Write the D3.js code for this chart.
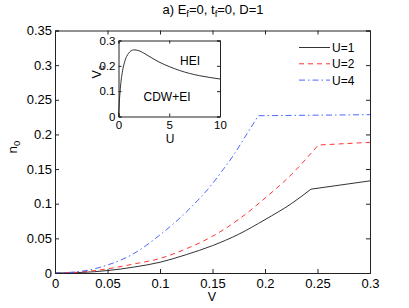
<!DOCTYPE html>
<html>
<head>
<meta charset="utf-8">
<title>n0 vs V</title>
<style>
body { margin: 0; background-color: #ffffff; }
text { font-family: "Liberation Sans", Arial, sans-serif; fill: #000; }
</style>
</head>
<body>
<script src="https://cdn.jsdelivr.net/npm/d3@7"></script>
<script>

// main plot data (last point of each list is the plateau end, the one before it is the kink)
var vU1 = [0, 0.025, 0.05, 0.075, 0.1, 0.125, 0.15, 0.175, 0.2, 0.225, 0.2438, 0.3];
var nU1 = [0, 0.0008, 0.0035, 0.0085, 0.0155, 0.0265, 0.0395, 0.056, 0.077, 0.1, 0.121, 0.133];
var vU2 = [0, 0.025, 0.05, 0.075, 0.1, 0.125, 0.15, 0.175, 0.2, 0.225, 0.2508, 0.3];
var nU2 = [0, 0.0015, 0.006, 0.013, 0.021, 0.035, 0.053, 0.0775, 0.108, 0.142, 0.1847, 0.1886];
var vU4 = [0, 0.025, 0.05, 0.075, 0.1, 0.125, 0.15, 0.16, 0.17, 0.18, 0.1936, 0.3];
var nU4 = [0, 0.0025, 0.0115, 0.028, 0.055, 0.088, 0.129, 0.149, 0.17, 0.194, 0.227, 0.2285];
var seriesNames = ["U=1", "U=2", "U=4"];
var xTicks = [0, 0.05, 0.1, 0.15, 0.2, 0.25, 0.3];
var yTicks = [0, 0.05, 0.1, 0.15, 0.2, 0.25, 0.3, 0.35];

// inset data
var insetU = [0, 0.1, 0.2, 0.4, 0.6, 0.8, 1, 1.5, 2, 2.5, 3, 4, 5, 6, 7, 8, 9, 10];
var insetVc = [0, 0.07, 0.12, 0.18, 0.215, 0.237, 0.25, 0.263, 0.26, 0.25, 0.238, 0.215, 0.197, 0.182, 0.17, 0.161, 0.154, 0.148];
var insetXTicks = [0, 5, 10];
var insetYTicks = [0, 0.1, 0.2, 0.3];

var w = 409, h = 308;
var svg = d3.select("body").append("svg")
            .attr("width", w)
            .attr("height", h);

var x = d3.scaleLinear().domain([0, 0.3]).range([55, 370]);
var y = d3.scaleLinear().domain([0, 0.35]).range([273, 30.5]);

var series = [
  {name: seriesNames[0], v: vU1, n: nU1, color: "#333333", dash: null},
  {name: seriesNames[1], v: vU2, n: nU2, color: "#ff3333", dash: "5,4"},
  {name: seriesNames[2], v: vU4, n: nU4, color: "#4d66ff", dash: "6,3,1.5,3"}
];

var smooth = d3.line()
  .x(function(d) { return x(d[0]); })
  .y(function(d) { return y(d[1]); })
  .curve(d3.curveMonotoneX);
var straight = d3.line()
  .x(function(d) { return x(d[0]); })
  .y(function(d) { return y(d[1]); });

// curves: smooth rise up to the kink, then straight plateau
series.forEach(function(s) {
  var pts = s.v.map(function(v, i) { return [v, s.n[i]]; });
  var k = pts.length - 2;
  svg.append("path")
     .attr("d", smooth(pts.slice(0, k + 1)) + straight(pts.slice(k)).replace(/^M/, "L"))
     .attr("fill", "none")
     .attr("stroke", s.color)
     .attr("stroke-width", 1)
     .attr("stroke-dasharray", s.dash);
});

// axes (matlab style: ticks inside, box)
var axB = svg.append("g").attr("transform", "translate(0,273)")
  .call(d3.axisBottom(x).tickValues(xTicks).tickSize(-4).tickPadding(6).tickFormat(d3.format("")));
var axL = svg.append("g").attr("transform", "translate(55,0)")
  .call(d3.axisLeft(y).tickValues(yTicks).tickSize(-4).tickPadding(3).tickFormat(d3.format("")));
var axT = svg.append("g").attr("transform", "translate(0,30.5)")
  .call(d3.axisTop(x).tickValues(xTicks).tickSize(-4).tickFormat(""));
var axR = svg.append("g").attr("transform", "translate(370,0)")
  .call(d3.axisRight(y).tickValues(yTicks).tickSize(-4).tickFormat(""));
[axB, axL, axT, axR].forEach(function(a) {
  a.select(".domain").attr("stroke", "#222");
  a.selectAll(".tick line").attr("stroke", "#222");
  a.selectAll("text").attr("font-size", "13px").attr("font-family", "Liberation Sans, Arial, sans-serif").attr("fill", "#000");
});

// title
var title = svg.append("text")
   .attr("x", 213).attr("y", 14)
   .attr("text-anchor", "middle")
   .attr("font-size", "13px");
title.append("tspan").text("a) E");
title.append("tspan").attr("font-size", "9.5px").attr("dy", 3).text("f");
title.append("tspan").attr("dy", -3).text("=0, t");
title.append("tspan").attr("font-size", "9.5px").attr("dy", 3).text("f");
title.append("tspan").attr("dy", -3).text("=0, D=1");

// axis labels
svg.append("text").attr("x", 212).attr("y", 301).attr("text-anchor", "middle").attr("font-size", "12.5px").text("V");
var yl = svg.append("text").attr("transform", "translate(17,147) rotate(-90)").attr("text-anchor", "middle").attr("font-size", "13.5px");
yl.append("tspan").text("n");
yl.append("tspan").attr("font-size", "9.5px").attr("dy", 3).text("0");

// legend
series.forEach(function(s, i) {
  var ly = 47.5 + i * 16.3;
  svg.append("line")
     .attr("x1", 299).attr("x2", 330).attr("y1", ly).attr("y2", ly)
     .attr("stroke", s.color).attr("stroke-width", 1)
     .attr("stroke-dasharray", s.dash);
  svg.append("text").attr("x", 332).attr("y", ly + 4.5).attr("font-size", "12px").text(s.name);
});

// inset
var ix = d3.scaleLinear().domain([0, 10]).range([118.5, 220]);
var iy = d3.scaleLinear().domain([0, 0.3]).range([116.5, 40.5]);

svg.append("rect").attr("x", 118.5).attr("y", 40.5).attr("width", 101.5).attr("height", 76)
   .attr("fill", "#fff");

svg.append("path")
   .datum(insetU.map(function(u, i) { return [u, insetVc[i]]; }))
   .attr("d", d3.line().x(function(d) { return ix(d[0]); }).y(function(d) { return iy(d[1]); }).curve(d3.curveMonotoneX))
   .attr("fill", "none").attr("stroke", "#333").attr("stroke-width", 1);

var iB = svg.append("g").attr("transform", "translate(0,116.5)")
  .call(d3.axisBottom(ix).tickValues(insetXTicks).tickSize(-3).tickPadding(4));
var iL = svg.append("g").attr("transform", "translate(118.5,0)")
  .call(d3.axisLeft(iy).tickValues(insetYTicks).tickSize(-3).tickPadding(3).tickFormat(d3.format("")));
var iT = svg.append("g").attr("transform", "translate(0,40.5)")
  .call(d3.axisTop(ix).tickValues(insetXTicks).tickSize(-3).tickFormat(""));
var iR = svg.append("g").attr("transform", "translate(220,0)")
  .call(d3.axisRight(iy).tickValues(insetYTicks).tickSize(-3).tickFormat(""));
[iB, iL, iT, iR].forEach(function(a) {
  a.select(".domain").attr("stroke", "#222");
  a.selectAll(".tick line").attr("stroke", "#222");
  a.selectAll("text").attr("font-size", "11.5px").attr("font-family", "Liberation Sans, Arial, sans-serif").attr("fill", "#000");
});

svg.append("text").attr("x", 170).attr("y", 142.5).attr("text-anchor", "middle").attr("font-size", "12px").text("U");
var il = svg.append("text").attr("transform", "translate(101,72) rotate(-90)").attr("text-anchor", "middle").attr("font-size", "12.5px");
il.append("tspan").text("V");
il.append("tspan").attr("font-size", "9px").attr("dy", 3).text("c");

svg.append("text").attr("x", 190).attr("y", 65).attr("text-anchor", "middle").attr("font-size", "12px").text("HEI");
svg.append("text").attr("x", 167).attr("y", 101).attr("text-anchor", "middle").attr("font-size", "12px").text("CDW+EI");

</script>
</body>
</html>
